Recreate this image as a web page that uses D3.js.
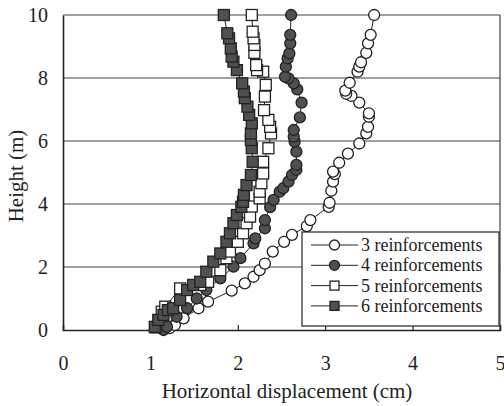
<!DOCTYPE html>
<html>
<head>
<meta charset="utf-8">
<script src="https://cdn.jsdelivr.net/npm/d3@7"></script>
<style>
  html, body { margin: 0; padding: 0; background: #fff; }
  svg { display: block; }
  svg text { font-family: "Liberation Serif", "DejaVu Serif", serif; }
</style>
</head>
<body>
<svg id="chart" width="504" height="406"></svg>
<script>
// Horizontal displacement (cm) vs. height (m) for walls with 3–6 reinforcement layers
const seriesNames = ["3 reinforcements", "4 reinforcements", "5 reinforcements", "6 reinforcements"];

const disp3 = [1.22, 1.28, 1.38, 1.55, 1.66, 1.93, 2.08, 2.18, 2.25, 2.31, 2.40, 2.53, 2.62, 2.79, 2.83, 3.04, 3.05, 3.07, 3.09, 3.11, 3.09, 3.16, 3.26, 3.39, 3.47, 3.49, 3.50, 3.50, 3.39, 3.30, 3.24, 3.23, 3.28, 3.37, 3.39, 3.41, 3.47, 3.49, 3.52, 3.56];
const height3 = [0.06, 0.16, 0.37, 0.69, 0.90, 1.25, 1.48, 1.69, 1.90, 2.11, 2.49, 2.80, 3.02, 3.30, 3.49, 3.91, 4.04, 4.42, 4.71, 4.95, 5.03, 5.31, 5.60, 5.92, 6.24, 6.45, 6.77, 6.88, 7.22, 7.43, 7.50, 7.60, 7.85, 8.20, 8.36, 8.50, 8.80, 9.10, 9.37, 10.0];

const disp4 = [1.15, 1.19, 1.30, 1.42, 1.53, 1.64, 1.80, 1.95, 2.03, 2.18, 2.20, 2.31, 2.31, 2.37, 2.41, 2.48, 2.52, 2.58, 2.62, 2.67, 2.67, 2.67, 2.65, 2.64, 2.64, 2.71, 2.73, 2.68, 2.64, 2.58, 2.54, 2.55, 2.57, 2.59, 2.60, 2.60, 2.61];
const height4 = [0.00, 0.10, 0.42, 0.69, 1.00, 1.27, 1.64, 2.01, 2.28, 2.75, 2.91, 3.23, 3.49, 3.90, 4.13, 4.39, 4.50, 4.71, 4.92, 5.08, 5.24, 5.66, 5.98, 6.14, 6.35, 6.75, 7.22, 7.64, 7.83, 7.99, 8.04, 8.36, 8.62, 8.78, 9.10, 9.37, 10.0];

const disp5 = [1.06, 1.13, 1.17, 1.34, 1.57, 1.66, 1.80, 1.87, 1.91, 2.00, 2.06, 2.10, 2.14, 2.16, 2.25, 2.25, 2.27, 2.29, 2.29, 2.35, 2.38, 2.37, 2.35, 2.30, 2.31, 2.32, 2.29, 2.22, 2.21, 2.19, 2.19, 2.18, 2.17, 2.16];
const height5 = [0.08, 0.58, 0.74, 1.32, 1.43, 1.53, 1.90, 2.28, 2.49, 2.80, 3.07, 3.39, 3.60, 3.92, 4.18, 4.39, 4.66, 4.97, 5.34, 5.77, 6.24, 6.45, 6.67, 6.98, 7.41, 7.78, 8.20, 8.25, 8.41, 8.80, 9.05, 9.26, 9.47, 10.0];

const disp6 = [1.05, 1.09, 1.15, 1.20, 1.26, 1.34, 1.42, 1.49, 1.57, 1.64, 1.72, 1.80, 1.87, 1.91, 1.95, 1.99, 2.04, 2.06, 2.07, 2.10, 2.15, 2.17, 2.16, 2.15, 2.15, 2.16, 2.13, 2.11, 2.08, 2.07, 2.05, 1.99, 1.95, 1.93, 1.92, 1.90, 1.88, 1.84];
const height6 = [0.10, 0.32, 0.48, 0.63, 0.69, 0.95, 1.27, 1.43, 1.53, 1.85, 2.17, 2.43, 2.80, 3.07, 3.39, 3.65, 3.91, 4.07, 4.29, 4.60, 4.92, 5.34, 5.77, 6.03, 6.24, 6.56, 6.83, 7.09, 7.36, 7.57, 7.83, 8.25, 8.52, 8.68, 8.94, 9.26, 9.42, 10.0];

const xTicks = [0, 1, 2, 3, 4, 5];
const yTicks = [0, 2, 4, 6, 8, 10];
const xTitle = "Horizontal displacement (cm)";
const yTitle = "Height (m)";

const series = [
  { name: seriesNames[0], x: disp3, y: height3, shape: "circle", fill: "#fff" },
  { name: seriesNames[1], x: disp4, y: height4, shape: "circle", fill: "#505050" },
  { name: seriesNames[2], x: disp5, y: height5, shape: "square", fill: "#fff" },
  { name: seriesNames[3], x: disp6, y: height6, shape: "square", fill: "#505050" }
];

const FONT = "'Liberation Serif', 'DejaVu Serif', serif";
const svg = d3.select("#chart");
const plot = { left: 63, top: 15, right: 500, bottom: 330 };

const x = d3.scaleLinear().domain([0, 5]).range([plot.left, plot.right]);
const y = d3.scaleLinear().domain([0, 10]).range([plot.bottom, plot.top]);

// horizontal gridlines
svg.append("g")
  .selectAll("line")
  .data(yTicks.filter(d => d > 0))
  .join("line")
  .attr("x1", plot.left).attr("x2", plot.right)
  .attr("y1", d => y(d)).attr("y2", d => y(d))
  .attr("stroke", "#444").attr("stroke-width", 1.2);

// right border
svg.append("line")
  .attr("x1", plot.right).attr("x2", plot.right)
  .attr("y1", plot.top).attr("y2", plot.bottom)
  .attr("stroke", "#444").attr("stroke-width", 1.2);

// x axis with short inner ticks
const xAxis = svg.append("g")
  .attr("transform", `translate(0,${plot.bottom})`)
  .call(d3.axisBottom(x).tickValues(xTicks).tickSize(-5).tickPadding(26).tickFormat(d3.format("d")))
  .attr("font-family", FONT).attr("font-size", 20);
xAxis.select(".domain").attr("stroke", "#222").attr("stroke-width", 1.6);
xAxis.selectAll(".tick line").attr("stroke", "#222").attr("stroke-width", 1.2)
  .filter(d => d === 0 || d === 5).remove();
xAxis.selectAll("text").attr("fill", "#222");

// y axis
const yAxis = svg.append("g")
  .attr("transform", `translate(${plot.left},0)`)
  .call(d3.axisLeft(y).tickValues(yTicks).tickSize(0).tickPadding(15).tickFormat(d3.format("d")))
  .attr("font-family", FONT).attr("font-size", 20);
yAxis.select(".domain").attr("stroke", "#222").attr("stroke-width", 1.6);
yAxis.selectAll("text").attr("fill", "#222");

// axis titles
svg.append("text")
  .attr("x", 287).attr("y", 398)
  .attr("text-anchor", "middle")
  .attr("font-family", FONT).attr("font-size", 21).attr("fill", "#222")
  .text(xTitle);

svg.append("text")
  .attr("transform", "translate(23,176) rotate(-90)")
  .attr("text-anchor", "middle")
  .attr("font-family", FONT).attr("font-size", 21).attr("fill", "#222")
  .text(yTitle);

// series: connecting line + markers
const line = d3.line().x(d => x(d[0])).y(d => y(d[1]));

function drawMarker(g, shape, size) {
  if (shape === "circle") {
    return g.append("circle").attr("r", size / 2);
  }
  return g.append("rect").attr("x", -size / 2).attr("y", -size / 2)
    .attr("width", size).attr("height", size);
}

series.forEach(s => {
  const pts = s.x.map((v, i) => [v, s.y[i]]);
  const g = svg.append("g");
  g.append("path")
    .attr("d", line(pts))
    .attr("fill", "none").attr("stroke", "#222").attr("stroke-width", 1);
  pts.forEach(p => {
    const m = g.append("g").attr("transform", `translate(${x(p[0])},${y(p[1])})`);
    drawMarker(m, s.shape, 11)
      .attr("fill", s.fill).attr("stroke", "#222").attr("stroke-width", 1.3);
  });
});

// legend
const legend = svg.append("g");
legend.append("rect")
  .attr("x", 302).attr("y", 232).attr("width", 197).attr("height", 94)
  .attr("fill", "#fff").attr("stroke", "#222").attr("stroke-width", 1.2);

series.forEach((s, i) => {
  const cy = 245 + i * 20.3;
  const row = legend.append("g");
  row.append("line").attr("x1", 311).attr("x2", 358).attr("y1", cy).attr("y2", cy)
    .attr("stroke", "#222").attr("stroke-width", 1);
  const m = row.append("g").attr("transform", `translate(334.5,${cy})`);
  drawMarker(m, s.shape, s.shape === "circle" ? 10 : 9)
    .attr("fill", s.fill).attr("stroke", "#222").attr("stroke-width", 1.3);
  row.append("text").attr("x", 361).attr("y", cy + 6)
    .attr("font-family", FONT).attr("font-size", 18).attr("fill", "#222")
    .text(s.name);
});
</script>
</body>
</html>
